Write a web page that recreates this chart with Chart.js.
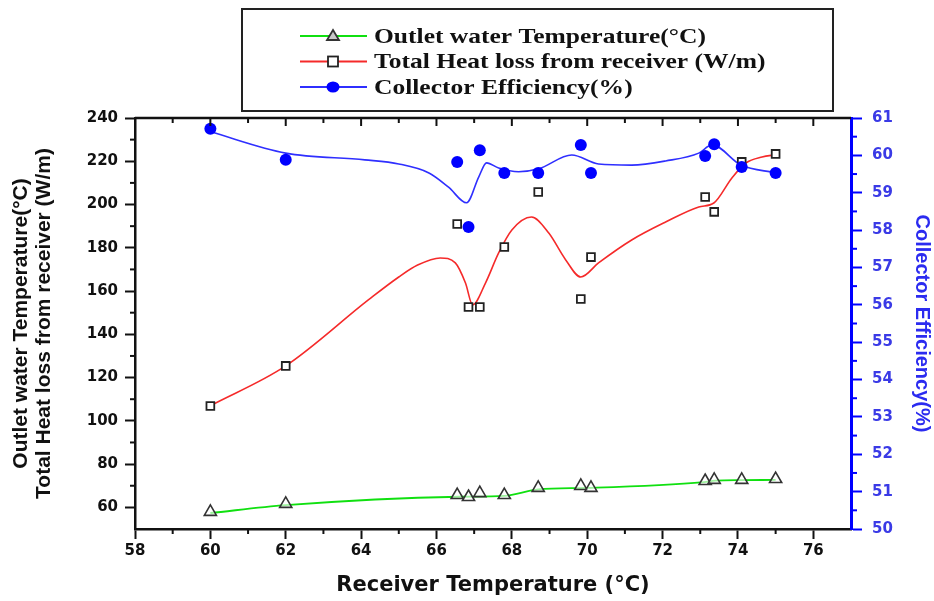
<!DOCTYPE html>
<html>
<head>
<meta charset="utf-8">
<script src="https://cdn.jsdelivr.net/npm/chart.js@4.4.0/dist/chart.umd.min.js"></script>
<style>
  html, body { margin: 0; padding: 0; background: #fff; }
</style>
</head>
<body>
<canvas id="chart" width="934" height="601"></canvas>
<script>
// Measured points (receiver temperature, °C)
const receiverTemp = [60, 62, 66.55, 66.85, 67.15, 67.8, 68.7, 69.83, 70.1, 73.13, 73.37, 74.1, 75];
const outletTemp = [57.9, 61.6, 65.7, 64.8, 66.6, 65.7, 69.0, 69.9, 69.0, 72.2, 72.7, 72.7, 73.1];
const heatLoss = [106.9, 125.4, 191, 152.6, 152.6, 180.4, 205.8, 156.3, 175.7, 203.5, 196.6, 219.7, 223.4];
const efficiency = [60.71, 59.88, 59.82, 58.08, 60.14, 59.53, 59.53, 60.28, 59.53, 59.98, 60.3, 59.69, 59.53];

// Fitted curves
const outletFitX = [60, 62, 66.6, 67.8, 68.7, 70, 73.1, 73.4, 74.1, 75];
const outletFitY = [57.4, 61, 64.9, 65.3, 68.3, 69, 71.7, 72.4, 72.6, 72.7];
const heatFitX = [60, 62, 64.2, 65.0, 65.5, 66.1, 66.5, 66.77, 66.96, 67.3, 67.65, 68.0, 68.52, 68.98, 69.43, 69.83, 70.3, 71.18, 72.08, 72.96, 73.36, 73.84, 74.21, 74.64, 75];
const heatFitY = [107, 125.4, 156, 166.5, 172, 175.3, 173, 163.7, 153.6, 163.7, 177.6, 188.2, 194.2, 186.8, 174.4, 166.5, 173, 183.6, 191.9, 198.9, 200.7, 212.3, 219.2, 222, 223];
const effFitX = [60, 62, 64.1, 65.0, 65.8, 66.32, 66.8, 67.12, 67.33, 67.65, 68.18, 68.71, 69.59, 70.3, 71.18, 72.08, 72.96, 73.31, 74.08, 75];
const effFitY = [60.63, 60.06, 59.88, 59.77, 59.53, 59.15, 58.73, 59.42, 59.8, 59.66, 59.56, 59.64, 60.01, 59.77, 59.74, 59.85, 60.06, 60.28, 59.74, 59.53];

// Axis ranges and steps
const xRange = [58, 77], xStep = 2;
const leftRange = [50, 240], leftStep = 20;
const rightRange = [50, 61], rightStep = 1;

const legendLabels = ['Outlet water Temperature(°C)', 'Total Heat loss from receiver (W/m)', 'Collector Efficiency(%)'];

const GREEN = '#10e010';
const RED = '#f52a2a';
const BLUE = '#2f2fff';

function pts(xs, ys) {
    return xs.map((x, i) => ({ x: x, y: ys[i] }));
}

const tickFont = { family: 'DejaVu Sans', weight: 'bold', size: 15 };

// minor ticks, mirrored top ticks and the boxed legend
const framePlugin = {
    id: 'frame',
    afterDraw(chart) {
        const ctx = chart.ctx;
        const area = chart.chartArea;
        const sx = chart.scales.x, sy = chart.scales.y, sr = chart.scales.y1;
        ctx.save();

        // top border with inward ticks
        ctx.strokeStyle = '#111';
        ctx.lineWidth = 2.5;
        ctx.beginPath();
        ctx.moveTo(area.left, area.top);
        ctx.lineTo(area.right, area.top);
        ctx.stroke();
        ctx.lineWidth = 2;
        for (let v = xRange[0] + 1; v < xRange[1]; v += 1) {
            const px = sx.getPixelForValue(v);
            const major = (v - xRange[0]) % xStep === 0;
            ctx.beginPath();
            ctx.moveTo(px, area.top);
            ctx.lineTo(px, area.top + (major ? 8 : 5));
            ctx.stroke();
            if (!major) {
                ctx.beginPath();
                ctx.moveTo(px, area.bottom);
                ctx.lineTo(px, area.bottom + 5);
                ctx.stroke();
            }
        }
        // left minor ticks
        for (let v = leftRange[0] + 20; v < leftRange[1]; v += leftStep) {
            const py = sy.getPixelForValue(v);
            ctx.beginPath();
            ctx.moveTo(area.left, py);
            ctx.lineTo(area.left - 5, py);
            ctx.stroke();
        }
        // right minor ticks
        ctx.strokeStyle = '#0000ff';
        for (let v = rightRange[0] + 0.5; v < rightRange[1]; v += rightStep) {
            const py = sr.getPixelForValue(v);
            ctx.beginPath();
            ctx.moveTo(area.right, py);
            ctx.lineTo(area.right + 6, py);
            ctx.stroke();
        }

        // legend box
        ctx.strokeStyle = '#222';
        ctx.lineWidth = 2;
        ctx.strokeRect(242, 9, 591, 102);
        const colors = [GREEN, RED, BLUE];
        legendLabels.forEach((label, i) => {
            const y = 36 + i * 25.5;
            ctx.strokeStyle = colors[i];
            ctx.lineWidth = 2;
            ctx.beginPath();
            ctx.moveTo(300, y);
            ctx.lineTo(367, y);
            ctx.stroke();
            ctx.lineWidth = 1.8;
            if (i === 0) {
                ctx.fillStyle = '#c8c8c8';
                ctx.strokeStyle = '#333';
                ctx.beginPath();
                ctx.moveTo(333, y - 6);
                ctx.lineTo(339, y + 4);
                ctx.lineTo(327, y + 4);
                ctx.closePath();
                ctx.fill();
                ctx.stroke();
            } else if (i === 1) {
                ctx.fillStyle = '#fff';
                ctx.strokeStyle = '#222';
                ctx.fillRect(328, y - 5, 10, 10);
                ctx.strokeRect(328, y - 5, 10, 10);
            } else {
                ctx.fillStyle = '#0000ff';
                ctx.beginPath();
                ctx.ellipse(333, y, 6.5, 5.5, 0, 0, Math.PI * 2);
                ctx.fill();
            }
            ctx.save();
            ctx.translate(374, y);
            ctx.scale(1.16, 1);
            ctx.fillStyle = '#111';
            ctx.font = 'bold 22px "Liberation Serif", "Times New Roman", serif';
            ctx.textBaseline = 'middle';
            ctx.fillText(label, 0, 1);
            ctx.restore();
        });
        ctx.restore();
    }
};

new Chart(document.getElementById('chart'), {
    type: 'scatter',
    data: {
        datasets: [
            {
                label: 'outlet fit', data: pts(outletFitX, outletFitY), yAxisID: 'y',
                showLine: true, borderColor: GREEN, borderWidth: 1.8, cubicInterpolationMode: 'monotone',
                pointRadius: 0, order: 10
            },
            {
                label: 'heat fit', data: pts(heatFitX, heatFitY), yAxisID: 'y',
                showLine: true, borderColor: RED, borderWidth: 1.6, cubicInterpolationMode: 'monotone',
                pointRadius: 0, order: 10
            },
            {
                label: 'eff fit', data: pts(effFitX, effFitY), yAxisID: 'y1',
                showLine: true, borderColor: BLUE, borderWidth: 1.6, cubicInterpolationMode: 'monotone',
                pointRadius: 0, order: 10
            },
            {
                label: legendLabels[1], data: pts(receiverTemp, heatLoss), yAxisID: 'y',
                pointStyle: 'rect', pointRadius: 5.5, pointBackgroundColor: '#fff',
                pointBorderColor: '#222', pointBorderWidth: 1.8, order: 3
            },
            {
                label: legendLabels[0], data: pts(receiverTemp, outletTemp), yAxisID: 'y',
                pointStyle: 'triangle', pointRadius: 7, pointBackgroundColor: 'rgba(255,255,255,0.6)',
                pointBorderColor: '#333', pointBorderWidth: 1.6, order: 2
            },
            {
                label: legendLabels[2], data: pts(receiverTemp, efficiency), yAxisID: 'y1',
                pointStyle: 'circle', pointRadius: 6, pointBackgroundColor: '#0000ff',
                pointBorderColor: '#0000ff', pointBorderWidth: 0, order: 1
            }
        ]
    },
    options: {
        responsive: false,
        animation: false,
        layout: { padding: { top: 118, left: 0, right: 0, bottom: 0 } },
        plugins: {
            legend: { display: false },
            tooltip: { enabled: false }
        },
        scales: {
            x: {
                type: 'linear',
                position: 'bottom',
                min: xRange[0],
                max: xRange[1],
                ticks: { stepSize: xStep, includeBounds: false, color: '#111', font: tickFont, padding: 3, maxRotation: 0 },
                grid: { drawOnChartArea: false, tickLength: 10, tickWidth: 2, tickColor: '#111' },
                border: { color: '#111', width: 2.5 },
                title: {
                    display: true,
                    text: 'Receiver Temperature (°C)',
                    color: '#111',
                    font: { family: 'DejaVu Sans', weight: 'bold', size: 21, lineHeight: 1.2 },
                    padding: { top: 0, bottom: 3 }
                },
                afterFit: s => { s.height = 72; }
            },
            y: {
                type: 'linear',
                position: 'left',
                min: leftRange[0],
                max: leftRange[1],
                ticks: { stepSize: leftStep, includeBounds: false, color: '#111', font: tickFont, padding: 7 },
                grid: { drawOnChartArea: false, tickLength: 10, tickWidth: 2, tickColor: '#111' },
                border: { color: '#111', width: 2.5 },
                title: {
                    display: true,
                    text: ['Outlet water Temperature(°C)', 'Total Heat loss from receiver (W/m)'],
                    color: '#111',
                    font: { family: 'Liberation Sans', weight: 'bold', size: 21, lineHeight: 1.1 },
                    padding: { top: 10, bottom: 0 }
                },
                afterFit: s => { s.width = 135; }
            },
            y1: {
                type: 'linear',
                position: 'right',
                min: rightRange[0],
                max: rightRange[1],
                ticks: { stepSize: rightStep, color: '#3a3ae6', font: tickFont, padding: 10 },
                grid: { drawOnChartArea: false, tickLength: 11, tickWidth: 2, tickColor: '#0000ff' },
                border: { color: '#0000ff', width: 3 },
                title: {
                    display: true,
                    text: 'Collector Efficiency(%)',
                    color: '#2b2bf0',
                    font: { family: 'Liberation Sans', weight: 'bold', size: 20, lineHeight: 1.1 },
                    padding: { top: 1, bottom: 0 }
                },
                afterFit: s => { s.width = 83; }
            }
        }
    },
    plugins: [framePlugin]
});
</script>
</body>
</html>
